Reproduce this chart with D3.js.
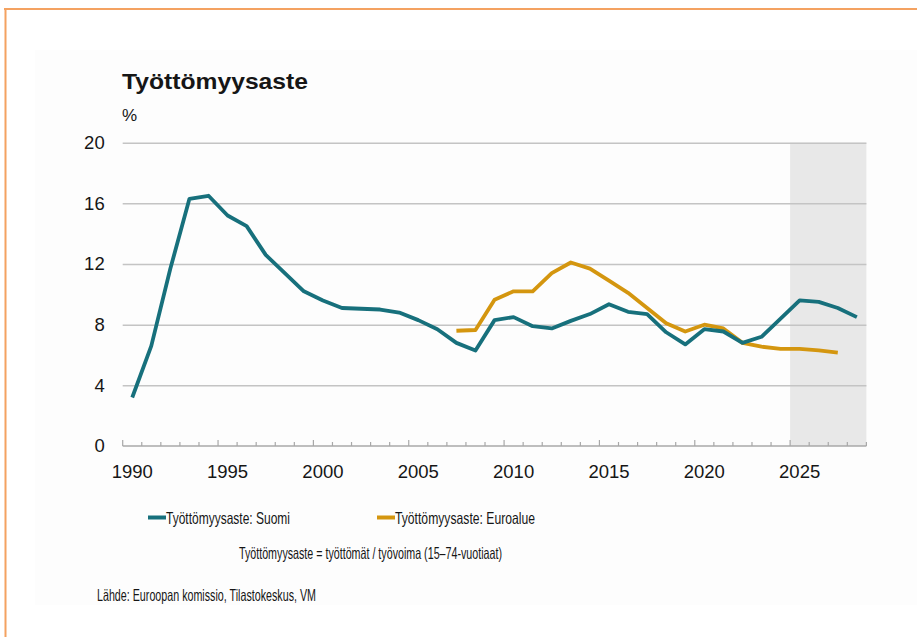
<!DOCTYPE html>
<html>
<head>
<meta charset="utf-8">
<script src="https://cdn.jsdelivr.net/npm/d3@7"></script>
<style>
  body { margin: 0; background: #fff; }
  svg { display: block; }
  text { font-family: "Liberation Sans", Arial, sans-serif; fill: #161616; }
</style>
</head>
<body>
<div id="chart"></div>
<script>
// data
var years = d3.range(1990, 2029);
var suomi = [3.2, 6.6, 11.7, 16.3, 16.5, 15.2, 14.5, 12.6, 11.4, 10.2,
             9.6, 9.1, 9.05, 9.0, 8.8, 8.3, 7.7, 6.8, 6.3, 8.3,
             8.5, 7.9, 7.75, 8.25, 8.7, 9.35, 8.85, 8.7, 7.5, 6.7,
             7.7, 7.55, 6.8, 7.2, 8.4, 9.6, 9.5, 9.1, 8.5];
var euroYears = d3.range(2007, 2028);
var euroalue = [7.6, 7.65, 9.65, 10.2, 10.2, 11.4, 12.1, 11.7, 10.9, 10.1,
                9.1, 8.1, 7.55, 8.0, 7.75, 6.8, 6.55, 6.4, 6.4, 6.3, 6.15];
var yTicks = [0, 4, 8, 12, 16, 20];
var xLabels = [1990, 1995, 2000, 2005, 2010, 2015, 2020, 2025];
var forecastFrom = 2025;

function draw() {
    var W = 917, H = 637;
    var pLeft = 122.7, pRight = 866.4, pTop = 142.7, pBottom = 446;

    var svg = d3.select("#chart").append("svg")
        .attr("width", W)
        .attr("height", H);

    // faint panel + orange frame
    svg.append("rect").attr("x", 35).attr("y", 50).attr("width", W - 35).attr("height", 555)
        .attr("fill", "#fdfdfd");
    svg.append("line").attr("x1", 4).attr("x2", W).attr("y1", 9).attr("y2", 9)
        .attr("stroke", "#f4a261").attr("stroke-width", 2);
    svg.append("line").attr("x1", 5.5).attr("x2", 5.5).attr("y1", 8).attr("y2", H)
        .attr("stroke", "#f4a261").attr("stroke-width", 2);

    var x = d3.scaleBand().domain(years).range([pLeft, pRight]).padding(0);
    var y = d3.scaleLinear().domain([0, 20]).range([pBottom, pTop]);
    var cx = function(yr) { return x(yr) + x.bandwidth() / 2; };

    // forecast shading
    svg.append("rect")
        .attr("x", x(forecastFrom))
        .attr("y", y(20))
        .attr("width", pRight - x(forecastFrom))
        .attr("height", y(0) - y(20))
        .attr("fill", "#e8e8e8");

    // gridlines + y labels
    var yAxis = svg.append("g")
        .attr("transform", "translate(" + pLeft + ",0)")
        .call(d3.axisLeft(y).tickValues(yTicks).tickSize(-(pRight - pLeft)).tickPadding(18));
    yAxis.select(".domain").remove();
    yAxis.selectAll(".tick line").attr("stroke", "#c4c4c4").attr("stroke-width", 1.5)
        .filter(function(d) { return d === 0; }).remove();
    yAxis.selectAll(".tick text").attr("font-size", 18.5).attr("fill", "#161616")
        .style("font-family", "'Liberation Sans', Arial, sans-serif");

    // x axis: ticks on category boundaries
    var xAxis = svg.append("g");
    xAxis.append("line").attr("x1", pLeft).attr("x2", pRight).attr("y1", pBottom).attr("y2", pBottom)
        .attr("stroke", "#a8a8a8").attr("stroke-width", 1.5);
    var last = years[years.length - 1];
    var bounds = years.concat([last + 1]);
    var bx = function(d) { return d <= last ? x(d) : pRight; };
    xAxis.selectAll(".xt").data(bounds).enter().append("line")
        .attr("x1", bx)
        .attr("x2", bx)
        .attr("y1", pBottom)
        .attr("y2", function(d) { return pBottom - (d % 5 === 0 ? 6 : 4); })
        .attr("stroke", "#a8a8a8").attr("stroke-width", 1.2);
    xAxis.selectAll(".xl").data(xLabels).enter().append("text")
        .attr("x", function(d) { return cx(d); })
        .attr("y", 478)
        .attr("text-anchor", "middle")
        .attr("font-size", 18.5)
        .text(function(d) { return d; });

    // lines
    var line = d3.line().x(function(d) { return cx(d[0]); }).y(function(d) { return y(d[1]); });
    svg.append("path")
        .datum(euroYears.map(function(yr, i) { return [yr, euroalue[i]]; }))
        .attr("d", line).attr("fill", "none")
        .attr("stroke", "#d4960f").attr("stroke-width", 3.8).attr("stroke-linejoin", "round");
    svg.append("path")
        .datum(years.map(function(yr, i) { return [yr, suomi[i]]; }))
        .attr("d", line).attr("fill", "none")
        .attr("stroke", "#17707c").attr("stroke-width", 3.8).attr("stroke-linejoin", "round");

    // title
    svg.append("text").attr("x", 122).attr("y", 89).attr("font-size", 22).attr("font-weight", "bold")
        .attr("textLength", 186).attr("lengthAdjust", "spacingAndGlyphs")
        .text("Työttömyysaste");
    svg.append("text").attr("x", 122).attr("y", 121).attr("font-size", 17).text("%");

    // legend
    var legend = [
        { name: "Työttömyysaste: Suomi", color: "#17707c", x: 148, w: 124 },
        { name: "Työttömyysaste: Euroalue", color: "#d4960f", x: 377, w: 140 }
    ];
    legend.forEach(function(l) {
        svg.append("line").attr("x1", l.x).attr("x2", l.x + 18).attr("y1", 517.5).attr("y2", 517.5)
            .attr("stroke", l.color).attr("stroke-width", 4);
        svg.append("text").attr("x", l.x + 18).attr("y", 523.5).attr("font-size", 16.5)
            .attr("textLength", l.w).attr("lengthAdjust", "spacingAndGlyphs")
            .text(l.name);
    });

    svg.append("text").attr("x", 239).attr("y", 558.5).attr("font-size", 16.5)
        .attr("textLength", 263).attr("lengthAdjust", "spacingAndGlyphs")
        .text("Työttömyysaste = työttömät / työvoima (15–74-vuotiaat)");
    svg.append("text").attr("x", 97).attr("y", 600.5).attr("font-size", 16.5)
        .attr("textLength", 219).attr("lengthAdjust", "spacingAndGlyphs")
        .text("Lähde: Euroopan komissio, Tilastokeskus, VM");
}
draw();
</script>
</body>
</html>
